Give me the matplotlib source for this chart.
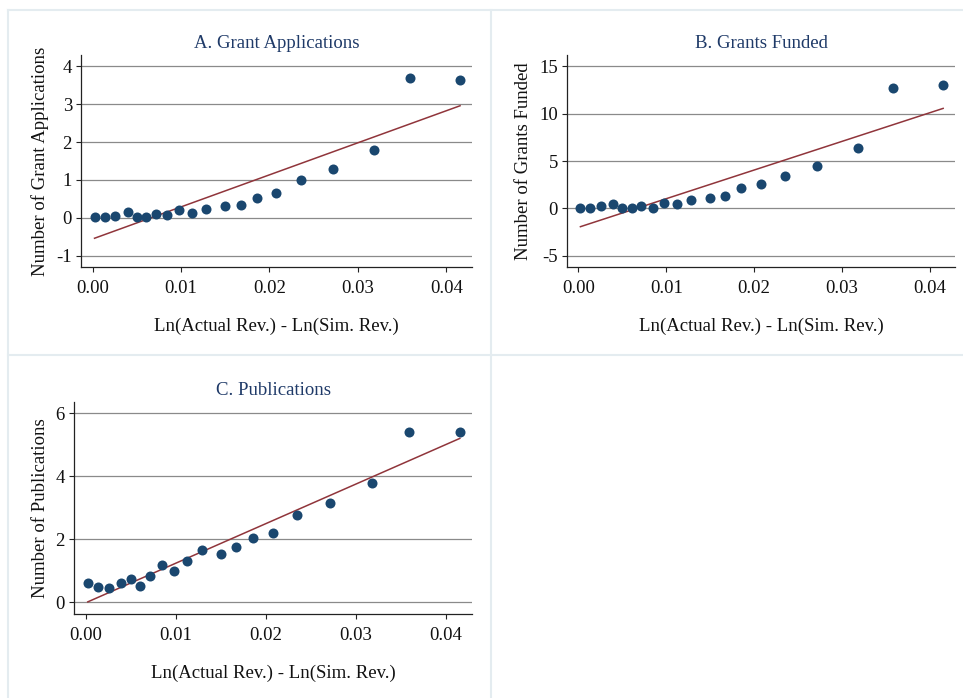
import matplotlib
matplotlib.use("Agg")
import matplotlib.pyplot as plt
import numpy as np
from matplotlib.lines import Line2D
from matplotlib.ticker import FormatStrFormatter

# Bin means of the revenue shock (shared by all three panels)
x_bins = [0.00023, 0.00136, 0.00256, 0.00396, 0.00501, 0.00607, 0.00716,
          0.00844, 0.00976, 0.01123, 0.01286, 0.01497, 0.01674, 0.01855,
          0.02077, 0.02352, 0.02718, 0.03182, 0.03589, 0.04155]

# Panel outcomes (bin means)
grant_apps = [0.02, 0.02, 0.04, 0.14, 0.03, 0.01, 0.11, 0.07, 0.20, 0.13,
              0.24, 0.31, 0.33, 0.53, 0.66, 0.99, 1.28, 1.79, 3.68, 3.63]
grants_funded = [0.07, 0.00, 0.25, 0.46, 0.00, 0.07, 0.25, 0.07, 0.60, 0.46,
                 0.85, 1.09, 1.34, 2.18, 2.54, 3.45, 4.50, 6.37, 12.75, 13.06]
publications = [0.61, 0.50, 0.47, 0.62, 0.74, 0.53, 0.83, 1.17, 0.99, 1.30,
                1.65, 1.54, 1.77, 2.04, 2.21, 2.78, 3.14, 3.80, 5.40, 5.42]

# Linear fit (intercept, slope) for each outcome
fit_apps = (-0.56, 84.7)
fit_funded = (-2.01, 302.5)
fit_pubs = (-0.014, 125.6)

titles = ['A. Grant Applications', 'B. Grants Funded', 'C. Publications']
ylabels = ['Number of Grant Applications', 'Number of Grants Funded',
           'Number of Publications']
yticks_a = [-1, 0, 1, 2, 3, 4]
yticks_b = [-5, 0, 5, 10, 15]
yticks_c = [0, 2, 4, 6]
xticks = [0.00, 0.01, 0.02, 0.03, 0.04]
xlabel = 'Ln(Actual Rev.) - Ln(Sim. Rev.)'

W, H = 963, 698
plt.rcParams['font.family'] = ['Liberation Serif', 'DejaVu Serif']
plt.rcParams['axes.unicode_minus'] = False
FS = 13.5

fig = plt.figure(figsize=(W / 100, H / 100), dpi=100)
fig.patch.set_facecolor('white')


def px_axes(left, top, right, bottom):
    return fig.add_axes([left / W, 1 - bottom / H, (right - left) / W, (bottom - top) / H])


def panel(ax, y, fit, yticks, ylim, title, ylabel):
    xs = np.array(x_bins)
    ax.scatter(xs, y, s=52, color='#1a476f', zorder=3, linewidths=0)
    ax.plot([xs[0], xs[-1]], [fit[0] + fit[1] * xs[0], fit[0] + fit[1] * xs[-1]],
            color='#90353b', lw=1.1, zorder=2)
    ax.set_xlim(-0.0013, 0.0429)
    ax.set_ylim(*ylim)
    ax.set_xticks(xticks)
    ax.set_yticks(yticks)
    ax.xaxis.set_major_formatter(FormatStrFormatter('%.2f'))
    ax.grid(axis='y', color='#8a8a8a', lw=0.9)
    ax.set_axisbelow(True)
    for s in ('top', 'right'):
        ax.spines[s].set_visible(False)
    for s in ('left', 'bottom'):
        ax.spines[s].set_color('#222222')
        ax.spines[s].set_linewidth(0.9)
    ax.tick_params(labelsize=FS, length=3.5, width=0.8, color='#222222',
                   labelcolor='#111111', pad=3)
    ax.tick_params(axis='x', pad=6)
    ax.set_title(title, fontsize=FS, color='#1f3a68', pad=5)
    ax.set_ylabel(ylabel, fontsize=FS, color='#111111', labelpad=5)
    ax.set_xlabel(xlabel, fontsize=FS, color='#111111', labelpad=15)


ax_a = px_axes(81, 55, 472, 267)
panel(ax_a, grant_apps, fit_apps, yticks_a, (-1.30, 4.30), titles[0], ylabels[0])

ax_b = px_axes(567, 55, 955, 267)
panel(ax_b, grants_funded, fit_funded, yticks_b, (-6.2, 16.2), titles[1], ylabels[1])

ax_c = px_axes(74, 402, 472, 614)
panel(ax_c, publications, fit_pubs, yticks_c, (-0.37, 6.36), titles[2], ylabels[2])

# light frames around the combined panels
frame = dict(color='#e4ecf0', lw=1.5, transform=fig.transFigure)
for (x0, y0, x1, y1) in [(8, 10, 963, 10), (8, 10, 8, 698),
                         (491, 10, 491, 698), (8, 355, 963, 355)]:
    fig.add_artist(Line2D([x0 / W, x1 / W], [1 - y0 / H, 1 - y1 / H], **frame))

fig.savefig('out.png', dpi=100, facecolor='white')
